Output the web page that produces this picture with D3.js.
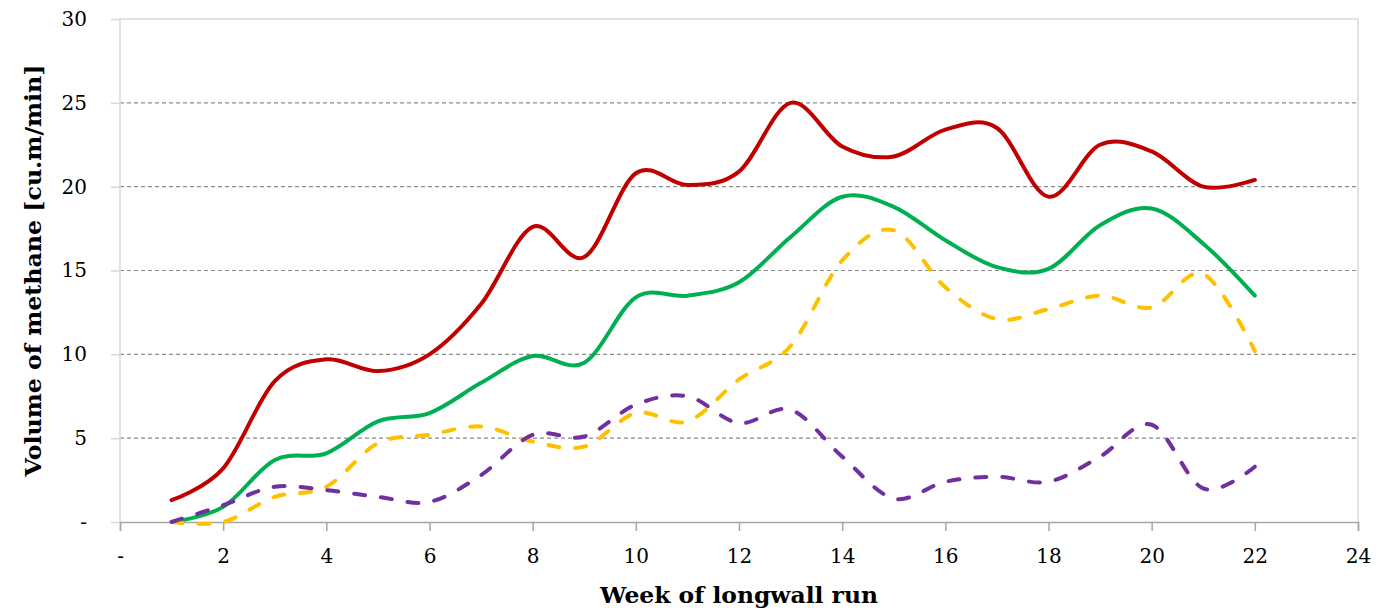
<!DOCTYPE html>
<html>
<head>
<meta charset="utf-8">
<script src="https://cdn.jsdelivr.net/npm/d3@7"></script>
<style>
body { margin: 0; background: #fff; }
</style>
</head>
<body>
<svg id="chart" width="1383" height="610"></svg>
<script>
// week numbers on the x axis
var weeks = [1, 2, 3, 4, 5, 6, 7, 8, 9, 10, 11, 12, 13, 14, 15, 16, 17, 18, 19, 20, 21, 22];
// methane volumes, one list per line
var redSeries = [1.3, 3.2, 8.4, 9.7, 9.0, 10.0, 13.0, 17.6, 15.8, 20.8, 20.1, 20.9, 25.0, 22.4, 21.8, 23.4, 23.5, 19.4, 22.5, 22.1, 20.0, 20.4];
var greenSeries = [0.0, 0.9, 3.7, 4.1, 6.0, 6.5, 8.3, 9.9, 9.5, 13.4, 13.5, 14.3, 17.0, 19.4, 18.8, 16.8, 15.2, 15.1, 17.7, 18.7, 16.6, 13.5];
var yellowSeries = [0.0, 0.0, 1.5, 2.1, 4.7, 5.2, 5.7, 4.8, 4.5, 6.5, 6.0, 8.5, 10.5, 15.6, 17.4, 14.0, 12.1, 12.7, 13.5, 12.8, 14.8, 10.2];
var purpleSeries = [0.0, 1.0, 2.1, 1.9, 1.5, 1.2, 2.8, 5.2, 5.1, 7.0, 7.5, 5.9, 6.7, 3.9, 1.4, 2.4, 2.7, 2.4, 3.9, 5.8, 2.0, 3.3];
// tick labels
var xTicks = [0, 2, 4, 6, 8, 10, 12, 14, 16, 18, 20, 22, 24];
var yTicks = [0, 5, 10, 15, 20, 25, 30];
var xTitle = 'Week of longwall run';
var yTitle = 'Volume of methane [cu.m/min]';

var plotSize = {'width': 1383, 'height': 610};
var plotMargin = {'left': 120, 'right': 25, 'top': 19, 'bottom': 88};
var innerW = plotSize.width - plotMargin.left - plotMargin.right;
var innerH = plotSize.height - plotMargin.top - plotMargin.bottom;

var svg = d3.select('#chart');
var g = svg.append('g').attr('transform', 'translate(' + plotMargin.left + ',' + plotMargin.top + ')');

var x = d3.scaleLinear().domain([0, 24]).range([0, innerW]);
var y = d3.scaleLinear().domain([0, 30]).range([innerH, 0]);

var dashLabel = function (d) { return d === 0 ? '-' : d; };

// horizontal dashed grid
g.selectAll('line.grid')
 .data(yTicks.filter(function (d) { return d > 0 && d < 30; }))
 .enter().append('line')
 .attr('class', 'grid')
 .attr('x1', 0).attr('x2', innerW)
 .attr('y1', function (d) { return y(d); })
 .attr('y2', function (d) { return y(d); })
 .attr('stroke', '#8c8c8c')
 .attr('stroke-width', 1.2)
 .attr('stroke-dasharray', '4,3');

// plot area border (left, top, right)
g.append('path')
 .attr('d', 'M0,' + innerH + 'V0H' + innerW + 'V' + innerH)
 .attr('fill', 'none')
 .attr('stroke', '#d9d9d9')
 .attr('stroke-width', 1.5);

// y axis
var yAxis = g.append('g')
    .call(d3.axisLeft(y).tickValues(yTicks).tickSize(9).tickPadding(24).tickFormat(dashLabel));
yAxis.select('.domain').remove();
yAxis.selectAll('line').attr('stroke', '#d9d9d9').attr('stroke-width', 1.5);
yAxis.selectAll('text')
     .attr('fill', '#000')
     .style('font-family', '"DejaVu Serif", serif')
     .style('font-size', '20px');

// x axis
var xAxis = g.append('g')
    .attr('transform', 'translate(0,' + innerH + ')')
    .call(d3.axisBottom(x).tickValues(xTicks).tickSize(9).tickPadding(18).tickFormat(dashLabel));
xAxis.select('.domain').attr('stroke', '#a6a6a6').attr('stroke-width', 1.5);
xAxis.selectAll('line').attr('stroke', '#a6a6a6').attr('stroke-width', 1.5);
xAxis.selectAll('text')
     .attr('fill', '#000')
     .style('font-family', '"DejaVu Serif", serif')
     .style('font-size', '20px');

// lines
var line = d3.line()
    .x(function (d) { return x(d[0]); })
    .y(function (d) { return y(d[1]); })
    .curve(d3.curveCatmullRom.alpha(0));

var seriesList = [
    {values: redSeries, color: '#C00000', dash: null},
    {values: greenSeries, color: '#00B050', dash: null},
    {values: yellowSeries, color: '#FFC000', dash: '11,16'},
    {values: purpleSeries, color: '#7030A0', dash: '11,16'}
];
for (var i = 0; i < seriesList.length; i++) {
    var s = seriesList[i];
    var pts = weeks.map(function (w, j) { return [w, s.values[j]]; });
    g.append('path')
     .datum(pts)
     .attr('d', line)
     .attr('fill', 'none')
     .attr('stroke', s.color)
     .attr('stroke-width', 4)
     .attr('stroke-linecap', 'round')
     .attr('stroke-linejoin', 'round')
     .attr('stroke-dasharray', s.dash);
}

// axis titles
svg.append('text')
   .attr('x', plotMargin.left + innerW / 2)
   .attr('y', 603)
   .attr('text-anchor', 'middle')
   .attr('textLength', 278)
   .attr('lengthAdjust', 'spacingAndGlyphs')
   .style('font-family', '"DejaVu Serif", serif')
   .style('font-weight', 'bold')
   .style('font-size', '22px')
   .text(xTitle);

svg.append('text')
   .attr('transform', 'translate(41,' + (plotMargin.top + innerH / 2) + ') rotate(-90)')
   .attr('text-anchor', 'middle')
   .attr('textLength', 412)
   .attr('lengthAdjust', 'spacingAndGlyphs')
   .style('font-family', '"DejaVu Serif", serif')
   .style('font-weight', 'bold')
   .style('font-size', '22px')
   .text(yTitle);
</script>
</body>
</html>
